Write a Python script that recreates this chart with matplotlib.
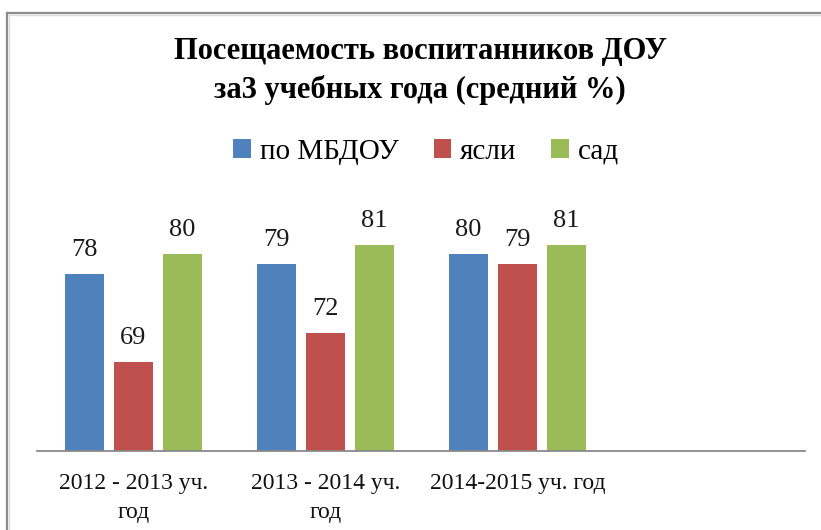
import matplotlib
matplotlib.use("Agg")
import matplotlib.pyplot as plt
from matplotlib.lines import Line2D
from matplotlib.patches import Patch
import numpy as np

categories = ["2012 - 2013 уч.\nгод", "2013 - 2014 уч.\nгод", "2014-2015 уч. год", ""]
series_names = ["по МБДОУ", "ясли", "сад"]
mbdou = [78, 79, 80]
yasli = [69, 72, 79]
sad = [80, 81, 81]
colors = ["#4F81BD", "#C0504D", "#9BBB59"]

title_line1 = "Посещаемость воспитанников ДОУ"
title_line2 = "за3 учебных года (средний %)"

W, H = 821, 530
fig = plt.figure(figsize=(W / 100, H / 100), dpi=100)
fig.patch.set_facecolor("white")

SERIF = ["Liberation Serif", "DejaVu Serif"]

# axes placement (pixels)
x0, x1 = 37.4, 805.4
ybase, ytop = 450.7, 205.4
ax = fig.add_axes([x0 / W, (H - ybase) / H, (x1 - x0) / W, (ybase - ytop) / H])
ax.set_xlim(-0.5, 3.5)
ax.set_ylim(60, 85)

series = [mbdou, yasli, sad]
width = 0.2
offsets = [-0.255, 0.0, 0.255]
for vals, c, off, name in zip(series, colors, offsets, series_names):
    xs = np.arange(len(vals)) + off
    ax.bar(xs, [v - 60 for v in vals], bottom=60, width=width, color=c, label=name)
    for xx, v in zip(xs, vals):
        ax.annotate(str(v), (xx, v), xytext=(0, 18), textcoords="offset pixels",
                    ha="center", va="baseline", fontsize=19, family=SERIF, color="#1a1a1a")

for s in ["top", "right", "left"]:
    ax.spines[s].set_visible(False)
ax.spines["bottom"].set_color("#8a8a8a")
ax.spines["bottom"].set_linewidth(1.3)
ax.set_yticks([])
ax.set_xticks(range(len(categories)))
ax.set_xticklabels(categories, fontsize=17, family=SERIF, linespacing=1.5, color="#111111")
ax.tick_params(axis="x", length=0, pad=16)

# title
fig.text(420 / W, (H - 59.3) / H, title_line1, ha="center", va="baseline",
         fontsize=22, fontweight="bold", family=SERIF)
fig.text(420 / W, (H - 97.7) / H, title_line2, ha="center", va="baseline",
         fontsize=22, fontweight="bold", family=SERIF)

# legend
handles = [Patch(facecolor=c, edgecolor="none") for c in colors]
fig.legend(handles, series_names, loc="center", bbox_to_anchor=(426 / W, (H - 152) / H),
           ncol=3, frameon=False, prop={"family": SERIF, "size": 21},
           handlelength=0.6, handleheight=0.65, handletextpad=0.3, columnspacing=1.2)

# border of the chart area
fig.add_artist(Line2D([7 / W, 1], [(H - 13) / H, (H - 13) / H], color="#8c8c8c", lw=1.6))
fig.add_artist(Line2D([7 / W, 7 / W], [0, (H - 13) / H], color="#8c8c8c", lw=1.6))
fig.add_artist(Line2D([9 / W, 1], [(H - 15) / H, (H - 15) / H], color="#dcdcdc", lw=1.0))
fig.add_artist(Line2D([9 / W, 9 / W], [0, (H - 15) / H], color="#dcdcdc", lw=1.0))

fig.savefig("out.png", dpi=100, facecolor="white")
